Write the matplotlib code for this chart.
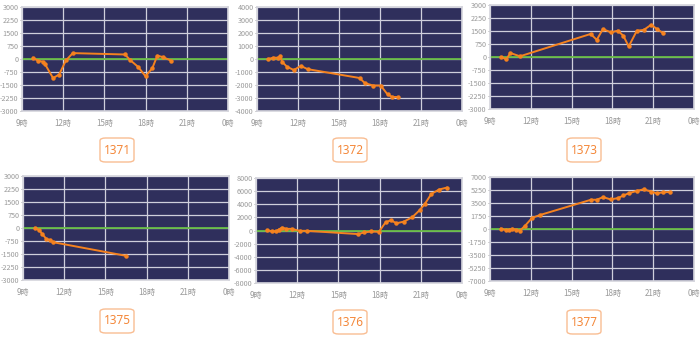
import matplotlib
matplotlib.use('Agg')
import matplotlib.pyplot as plt
from matplotlib.patches import FancyBboxPatch

plt.rcParams['font.family'] = ['Liberation Sans Narrow', 'Noto Sans CJK JP', 'DejaVu Sans']

# 時刻 (時) と損益
names = ['1371', '1372', '1373', '1375', '1376', '1377']

t_1371 = [9.8, 10.2, 10.5, 10.65, 11.26, 11.7, 12.2, 12.7, 16.5, 16.9, 17.45, 18.0, 18.5, 18.85, 19.27, 19.87]
v_1371 = [60, -110, -150, -260, -1100, -900, -80, 340, 260, -80, -450, -1000, -510, 190, 110, -100]

t_1372 = [9.8, 10.2, 10.5, 10.7, 10.85, 11.2, 11.7, 12.2, 12.7, 16.5, 16.9, 17.5, 18.05, 18.55, 18.9, 19.35]
v_1372 = [0, 100, 100, 200, -230, -600, -850, -530, -780, -1460, -1860, -2040, -2040, -2720, -2920, -2920]

t_1373 = [9.8, 10.2, 10.5, 11.2, 16.4, 16.85, 17.3, 17.9, 18.4, 18.8, 19.2, 19.8, 20.3, 20.85, 21.25, 21.7]
v_1373 = [0, -130, 230, 40, 1330, 990, 1610, 1420, 1520, 1230, 610, 1520, 1560, 1860, 1630, 1390]

t_1375 = [9.87, 10.2, 10.37, 10.7, 10.93, 11.2, 16.47]
v_1375 = [0, -130, -320, -630, -680, -820, -1600]

t_1376 = [9.8, 10.2, 10.48, 10.65, 10.9, 11.2, 11.6, 12.17, 12.7, 16.45, 16.86, 17.4, 17.95,
          18.44, 18.82, 19.23, 19.77, 20.37, 20.93, 21.3, 21.77, 22.33, 22.9]
v_1376 = [50, -150, -150, 150, 450, 250, 250, -50, -50, -550, -300, -150, -200,
          1260, 1560, 1100, 1360, 2010, 3120, 4070, 5580, 6240, 6540]

t_1377 = [9.8, 10.16, 10.4, 10.65, 10.93, 11.2, 11.58, 12.09, 12.67, 16.43, 16.84, 17.32, 17.87,
          18.4, 18.81, 19.2, 19.78, 20.29, 20.86, 21.25, 21.73, 22.26]
v_1377 = [40, -130, -130, 40, -130, -220, 440, 1490, 1880, 3940, 3940, 4290, 3980,
          4160, 4510, 4810, 5120, 5340, 5030, 4810, 4940, 4990]

y_limits = [3000, 4000, 3000, 3000, 8000, 7000]
y_steps = [750, 1000, 750, 750, 2000, 1750]

x_ticks = [9, 12, 15, 18, 21, 24]
x_labels = ['9時', '12時', '15時', '18時', '21時', '0時']

times = [t_1371, t_1372, t_1373, t_1375, t_1376, t_1377]
values = [v_1371, v_1372, v_1373, v_1375, v_1376, v_1377]

# 軸の位置 (px): left, top, right, bottom
W, H = 700, 340
boxes_px = [(22, 7, 228, 111), (257, 7, 462, 111), (490, 5, 694, 109),
            (23, 176, 229, 280), (256, 178, 462, 283), (490, 177, 694, 281)]
label_px = [(117, 150), (350, 150), (584, 150), (117, 321), (350, 322), (584, 322)]

BG = '#2f2f5c'
ORANGE = '#f5821f'

fig = plt.figure(figsize=(7, 3.4), dpi=100)
fig.patch.set_facecolor('white')

for i in range(6):
    l, t, r, b = boxes_px[i]
    ax = fig.add_axes([l / W, 1 - b / H, (r - l) / W, (b - t) / H])
    ax.set_facecolor(BG)
    lim = y_limits[i]
    step = y_steps[i]
    ax.set_xlim(9, 24)
    ax.set_ylim(-lim, lim)
    yt = list(range(-lim, lim + 1, step))
    ax.set_yticks(yt)
    ax.set_yticklabels([str(v) for v in yt])
    ax.set_xticks(x_ticks)
    ax.set_xticklabels(x_labels)
    ax.grid(True, color='#cfcfdc', linewidth=0.9)
    ax.set_axisbelow(True)
    ax.tick_params(axis='y', labelsize=5.2, colors='#999999', length=1.5, width=0.6, pad=1)
    ax.tick_params(axis='x', labelsize=5.8, colors='#999999', length=0, pad=6)
    for s in ax.spines.values():
        s.set_color('#d4d4dc')
        s.set_linewidth(1.2)
    ax.axhline(0, color='#66bb44', linewidth=1.3, zorder=2)
    ax.plot(times[i], values[i], color=ORANGE, linewidth=1.4, marker='o',
            markersize=2.2, zorder=3)

    cx, cy = label_px[i]
    fig.patches.append(FancyBboxPatch(((cx - 17) / W, 1 - (cy + 12) / H), 34 / W, 24 / H,
                                      boxstyle='round,pad=0,rounding_size=0.008',
                                      transform=fig.transFigure, facecolor='white',
                                      edgecolor='#f9bd92', linewidth=1.0))
    fig.text(cx / W, 1 - cy / H, names[i], ha='center', va='center',
             fontsize=8.5, color='#f4883a', family='Noto Sans')

fig.savefig('out.png', dpi=100)
